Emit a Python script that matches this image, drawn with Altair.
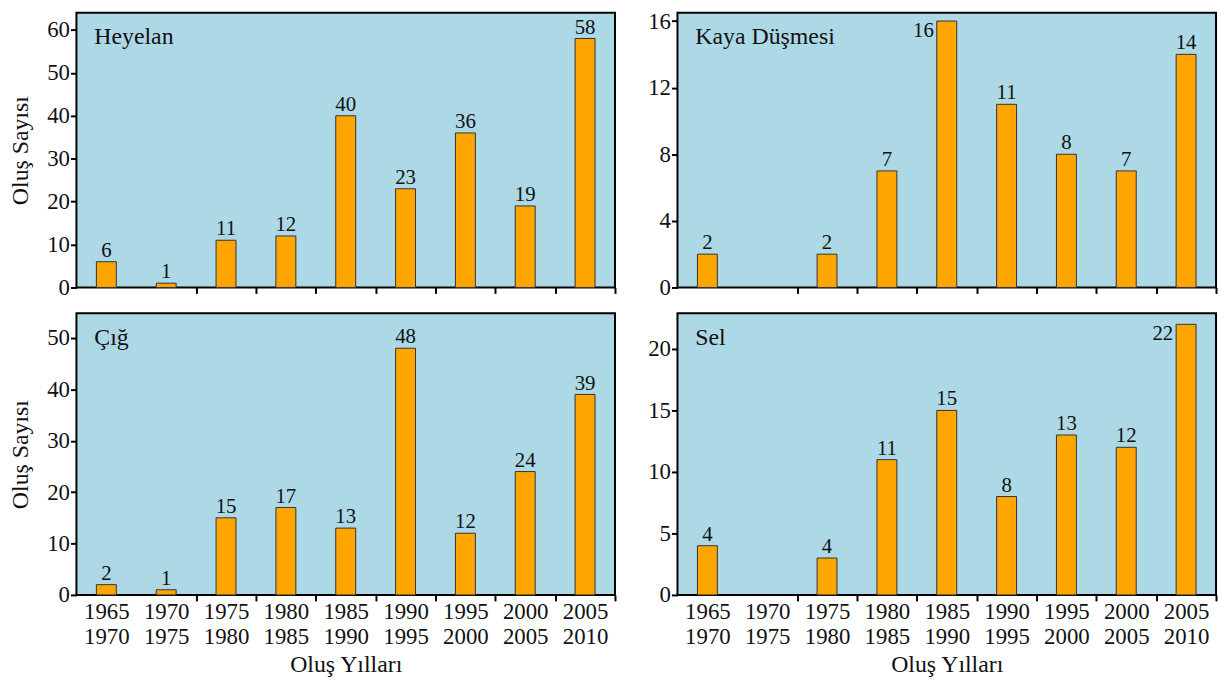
import altair as alt
import pandas as pd

periods = ["1965-1970", "1970-1975", "1975-1980", "1980-1985", "1985-1990",
           "1990-1995", "1995-2000", "2000-2005", "2005-2010"]

heyelan_values = [6, 1, 11, 12, 40, 23, 36, 19, 58]
kaya_values = [2, None, 2, 7, 16, 11, 8, 7, 14]
cig_values = [2, 1, 15, 17, 13, 48, 12, 24, 39]
sel_values = [4, None, 3, 11, 15, 8, 13, 12, 22]

heyelan_labels = [6, 1, 11, 12, 40, 23, 36, 19, 58]
kaya_labels = [2, None, 2, 7, 16, 11, 8, 7, 14]
cig_labels = [2, 1, 15, 17, 13, 48, 12, 24, 39]
sel_labels = [4, None, 4, 11, 15, 8, 13, 12, 22]

heyelan_ticks = [0, 10, 20, 30, 40, 50, 60]
kaya_ticks = [0, 4, 8, 12, 16]
cig_ticks = [0, 10, 20, 30, 40, 50]
sel_ticks = [0, 5, 10, 15, 20]

heyelan_max = 64
kaya_max = 16.5
cig_max = 54.8
sel_max = 22.9

FONT = "Times New Roman, Liberation Serif, DejaVu Serif, serif"
TXT = "#111111"
W = 543
H_TOP, H_BOTTOM = 277, 284


def panel(name, values, labels, ticks, ymax, bottom, left, height):
    df = pd.DataFrame({"period": periods, "value": values, "label": labels})
    df["side"] = (df["value"] / ymax) > 0.95

    xaxis = dict(
        labels=bottom, labelExpr="split(datum.label, '-')", labelAngle=0,
        tickBand="extent", tickSize=6, tickWidth=2, tickColor="black",
        tickOpacity=alt.ExprRef("datum.index > 0 ? 1 : 0"),
        domain=False, labelFont=FONT, labelFontSize=23, labelLineHeight=25,
        labelPadding=0, labelColor=TXT, titleFont=FONT, titleFontSize=24,
        titleFontWeight="normal", titlePadding=4, titleColor=TXT,
    )
    xaxis["title"] = "Oluş Yılları" if bottom else None
    x = alt.X("period:N", sort=periods,
              scale=alt.Scale(domain=periods, paddingInner=0, paddingOuter=0),
              axis=alt.Axis(**xaxis))

    yaxis = dict(
        values=ticks, tickSize=6, tickWidth=2, tickColor="black", domain=False,
        grid=False, labelFont=FONT, labelFontSize=23, labelPadding=1,
        labelColor=TXT, minExtent=31, maxExtent=31, titleFont=FONT,
        titleFontSize=24, titleFontWeight="normal", titlePadding=13,
        titleColor=TXT,
    )
    yaxis["title"] = "Oluş Sayısı" if left else None
    y = alt.Y("value:Q", scale=alt.Scale(domain=[0, ymax], nice=False, zero=True),
              axis=alt.Axis(**yaxis))

    base = alt.Chart(df)
    bars = base.mark_bar(width={"band": 0.333}, fill="#FFA500",
                         stroke="#333333", strokeWidth=1).encode(x=x, y=y)
    top_lbl = base.transform_filter(
        "isValid(datum.label) && !datum.side"
    ).mark_text(baseline="bottom", dy=-1, font=FONT, fontSize=21,
                color=TXT).encode(x=x, y=y, text="label:Q")
    side_lbl = base.transform_filter(
        "isValid(datum.label) && datum.side"
    ).mark_text(baseline="top", align="right", dx=-13, dy=-1, font=FONT,
                fontSize=21, color=TXT).encode(x=x, y=y, text="label:Q")
    title = alt.Chart(pd.DataFrame({"t": [name]})).mark_text(
        align="left", baseline="middle", font=FONT, fontSize=24, color=TXT
    ).encode(x=alt.value(18), y=alt.value(25), text="t:N")
    return alt.layer(bars, top_lbl, side_lbl, title).properties(width=W, height=height)


p1 = panel("Heyelan", heyelan_values, heyelan_labels, heyelan_ticks, heyelan_max, False, True, H_TOP)
p2 = panel("Kaya Düşmesi", kaya_values, kaya_labels, kaya_ticks, kaya_max, False, False, H_TOP)
p3 = panel("Çığ", cig_values, cig_labels, cig_ticks, cig_max, True, True, H_BOTTOM)
p4 = panel("Sel", sel_values, sel_labels, sel_ticks, sel_max, True, False, H_BOTTOM)

chart = alt.vconcat(
    alt.hconcat(p1, p2, spacing=29),
    alt.hconcat(p3, p4, spacing=29),
    spacing=12,
).properties(
    padding={"top": -2, "left": 0, "right": 0, "bottom": 0}
).configure_view(
    fill="#ADD8E6", stroke="black", strokeWidth=2
)

chart.save("out.html", embed_options={"renderer": "svg", "actions": False})
